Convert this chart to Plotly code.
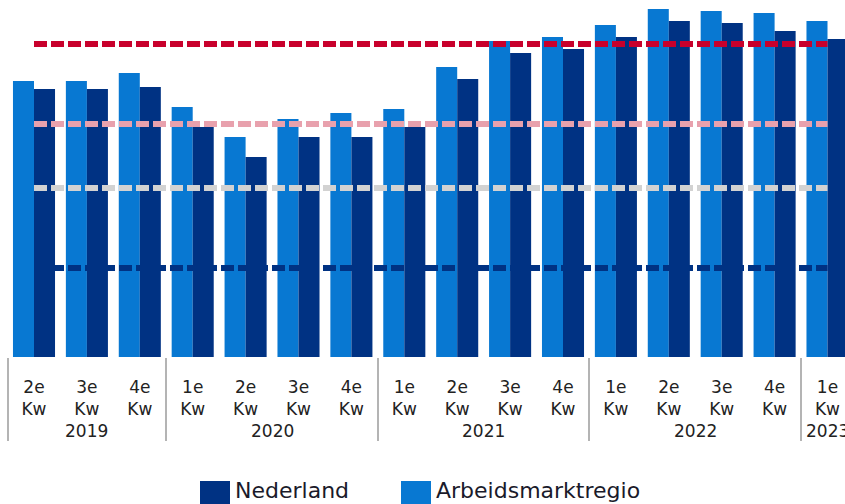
import plotly.graph_objects as go

# ---- data ----
quarters = ["2e", "3e", "4e", "1e", "2e", "3e", "4e", "1e", "2e", "3e", "4e", "1e", "2e", "3e", "4e", "1e"]
years = ["2019", "2019", "2019", "2020", "2020", "2020", "2020", "2021", "2021", "2021", "2021",
         "2022", "2022", "2022", "2022", "2023"]
arbeidsmarktregio = [1.38, 1.38, 1.42, 1.25, 1.10, 1.19, 1.22, 1.24, 1.45, 1.58, 1.60, 1.66, 1.74, 1.73, 1.72, 1.68]
nederland = [1.34, 1.34, 1.35, 1.15, 1.00, 1.10, 1.10, 1.15, 1.39, 1.52, 1.54, 1.60, 1.68, 1.67, 1.63, 1.59]

threshold_red = 1.565
threshold_pink = 1.165
threshold_grey = 0.845
threshold_navy = 0.445

# ---- styling ----
C_LIGHT = "#0878d2"
C_DARK = "#003283"
FONT = "DejaVu Sans"
TXT = "#222222"

OFF = 0                      # page body margin removed via post_script
W, H = 845 - OFF, 504 - OFF
BASE = 357 - OFF             # axis baseline (figure px) -> plot area height
PX_PER_UNIT = 200.0
PX_PER_CAT = 52.9
CAT0 = 34 - OFF              # figure px of first category centre


def py(ref_y):
    """reference page pixel y -> paper coordinate"""
    return (BASE - (ref_y - OFF)) / BASE


def px(ref_x):
    """reference page pixel x -> paper coordinate"""
    return (ref_x - OFF) / W


x = list(range(len(quarters)))

fig = go.Figure()
fig.add_trace(go.Bar(x=x, y=arbeidsmarktregio, name="Arbeidsmarktregio",
                     marker=dict(color=C_LIGHT, line=dict(width=0))))
fig.add_trace(go.Bar(x=x, y=nederland, name="Nederland",
                     marker=dict(color=C_DARK, line=dict(width=0))))

for val, col in [(threshold_navy, C_DARK), (threshold_grey, "#d2d2d2"),
                 (threshold_pink, "#e8a1ad"), (threshold_red, "#c8002c")]:
    fig.add_trace(go.Scatter(x=[x[0], x[-1]], y=[val, val], mode="lines",
                             line=dict(color=col, width=6, dash="13px,4px"),
                             hoverinfo="skip", showlegend=False))

# year dividers and year labels
dividers = [-0.5]
for i in range(1, len(years)):
    if years[i] != years[i - 1]:
        dividers.append(i - 0.5)
dividers.append(len(years) - 0.5)

annotations = []
seen = []
for yv in years:
    if yv not in seen:
        seen.append(yv)
for yv in seen:
    idx = [i for i, v in enumerate(years) if v == yv]
    annotations.append(dict(x=sum(idx) / len(idx), xref="x", y=py(431), yref="paper",
                            text=yv, showarrow=False, xanchor="center", yanchor="middle",
                            font=dict(family=FONT, size=17, color=TXT)))

# manual legend (large squares as in the reference)
legend_items = [("Nederland", C_DARK, 200), ("Arbeidsmarktregio", C_LIGHT, 401)]
shapes = []
for name, col, lx in legend_items:
    shapes.append(dict(type="rect", xref="paper", yref="paper",
                       x0=px(lx), x1=px(lx + 30),
                       y0=py(510), y1=py(481),
                       fillcolor=col, line=dict(width=0), layer="above"))
    annotations.append(dict(x=px(lx + 33), xref="paper", y=py(490), yref="paper",
                            text=name, showarrow=False, xanchor="left", yanchor="middle",
                            font=dict(family=FONT, size=22, color="#1a1a2a")))

x_left = -CAT0 / PX_PER_CAT
x_right = (W - CAT0) / PX_PER_CAT

fig.update_layout(
    width=W, height=H,
    margin=dict(l=0, r=0, t=0, b=H - BASE, pad=0),
    paper_bgcolor="white", plot_bgcolor="white",
    barmode="group", bargap=0.205, bargroupgap=0,
    showlegend=False,
    hovermode=False,
    annotations=annotations,
    shapes=shapes,
    xaxis=dict(range=[x_left, x_right], tickmode="array", tickvals=x,
               ticktext=[f"{q}<br>Kw" for q in quarters],
               ticks="", showgrid=False, zeroline=False, showline=False,
               tickfont=dict(family=FONT, size=17, color=TXT),
               ticklabelstandoff=18,
               minor=dict(tickmode="array", tickvals=dividers, ticks="outside",
                          ticklen=83, tickcolor="#b4b4b4", tickwidth=2, showgrid=False)),
    yaxis=dict(range=[0, BASE / PX_PER_UNIT], visible=False, showgrid=False, zeroline=False),
)

fig.write_html(
    "out.html",
    config={"displayModeBar": False},
    post_script="document.body.style.margin='0';"
                "document.body.style.overflow='hidden';"
                "document.documentElement.style.overflow='hidden';",
)
